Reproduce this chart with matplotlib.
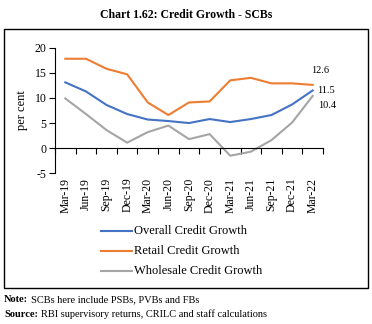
import matplotlib
matplotlib.use("Agg")
import matplotlib.pyplot as plt
from matplotlib.patches import Rectangle
from matplotlib.lines import Line2D
import matplotlib.transforms as mtransforms

plt.rcParams['font.family'] = ['Liberation Serif', 'DejaVu Serif']

categories = ["Mar-19", "Jun-19", "Sep-19", "Dec-19", "Mar-20", "Jun-20", "Sep-20",
              "Dec-20", "Mar-21", "Jun-21", "Sep-21", "Dec-21", "Mar-22"]
overall = [13.1, 11.3, 8.6, 6.8, 5.7, 5.4, 5.0, 5.8, 5.2, 5.8, 6.6, 8.7, 11.5]
retail = [17.8, 17.8, 15.8, 14.7, 9.1, 6.6, 9.1, 9.3, 13.5, 14.0, 12.9, 12.9, 12.6]
wholesale = [9.9, 6.8, 3.6, 1.1, 3.2, 4.5, 1.8, 2.8, -1.5, -0.7, 1.6, 5.1, 10.4]
series_names = ["Overall Credit Growth", "Retail Credit Growth", "Wholesale Credit Growth"]
colors = ["#4472C4", "#ED7D31", "#A5A5A5"]
yticks = [-5, 0, 5, 10, 15, 20]

W, H = 372, 324
fig = plt.figure(figsize=(W / 100, H / 100), dpi=100)

def fx(px):
    return px / W

def fy(py):
    return 1 - py / H

# outer border
fig.patches.append(Rectangle((fx(4), fy(288)), fx(368) - fx(4), fy(29) - fy(288),
                             transform=fig.transFigure, fill=False, edgecolor='black', lw=1.0))

fig.text(fx(186), fy(15), "Chart 1.62: Credit Growth - SCBs", ha='center', va='center',
         fontsize=8.5, fontweight='bold')

left, right, top, bottom = 55, 323, 47.7, 173.3
ax = fig.add_axes([fx(left), fy(bottom), fx(right) - fx(left), fy(top) - fy(bottom)])

x = list(range(len(categories)))
for vals, c, n in zip([overall, retail, wholesale], colors, series_names):
    ax.plot(x, vals, color=c, lw=1.5, label=n)

ax.set_xlim(-0.5, len(categories) - 0.5)
ax.set_ylim(-5, 20)
ax.set_yticks(yticks)
ax.set_yticklabels([str(v) for v in yticks], fontsize=8.5)
ax.spines['top'].set_visible(False)
ax.spines['right'].set_visible(False)
ax.spines['bottom'].set_position(('data', 0))
ax.spines['left'].set_linewidth(0.8)
ax.spines['bottom'].set_linewidth(0.8)
ax.set_xticks([i - 0.5 for i in range(len(categories) + 1)])
ax.set_xticklabels([])
ax.tick_params(axis='x', direction='out', length=4, width=0.8)
ax.tick_params(axis='y', direction='out', length=4, width=0.8, pad=2)
ax.set_ylabel("per cent", fontsize=9, labelpad=5)

trans = mtransforms.blended_transform_factory(ax.transData, ax.transAxes)
for i, lab in enumerate(categories):
    ax.text(i, -0.035, lab, transform=trans, rotation=90, ha='center', va='top', fontsize=8.5)

# end labels
ax.annotate(f"{retail[-1]:.1f}", (x[-1], retail[-1]), xytext=(-1, 10), textcoords='offset points',
            ha='left', va='center', fontsize=7.5)
ax.annotate(f"{overall[-1]:.1f}", (x[-1], overall[-1]), xytext=(3, 0), textcoords='offset points',
            ha='left', va='center', fontsize=7.5)
ax.annotate(f"{wholesale[-1]:.1f}", (x[-1], wholesale[-1]), xytext=(4, -7), textcoords='offset points',
            ha='left', va='center', fontsize=7.5)

# legend
rows = [230.7, 250.5, 270.7]
for n, c, ry in zip(series_names, colors, rows):
    fig.add_artist(Line2D([fx(101), fx(132)], [fy(ry), fy(ry)], color=c, lw=1.5,
                          transform=fig.transFigure))
    fig.text(fx(134), fy(ry), n, ha='left', va='center', fontsize=9)

t1 = fig.text(fx(4), fy(300), "Note:", fontsize=7.5, fontweight='bold', va='center', ha='left')
t2 = fig.text(fx(4), fy(314.5), "Source:", fontsize=7.5, fontweight='bold', va='center', ha='left')
fig.canvas.draw()
r = fig.canvas.get_renderer()
e1 = t1.get_window_extent(r)
e2 = t2.get_window_extent(r)
fig.text(fx(e1.x1 + 3), fy(300), "SCBs here include PSBs, PVBs and FBs", fontsize=7.5,
         va='center', ha='left')
fig.text(fx(e2.x1 + 3), fy(314.5), "RBI supervisory returns, CRILC and staff calculations",
         fontsize=7.5, va='center', ha='left')

fig.savefig("out.png", dpi=100)
